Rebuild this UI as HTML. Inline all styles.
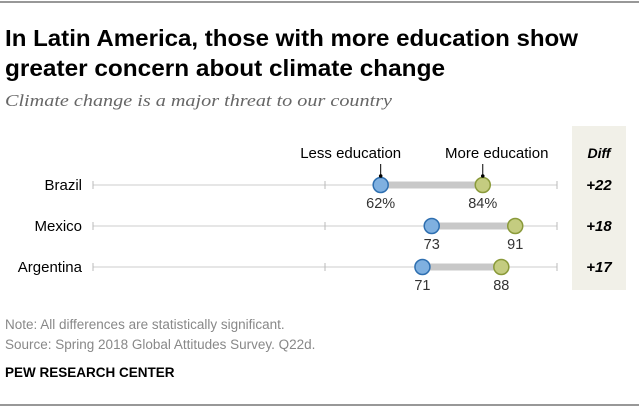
<!DOCTYPE html>
<html><head><meta charset="utf-8">
<style>
html,body{margin:0;padding:0;background:#fff;}
svg{display:block;font-family:"Liberation Sans",sans-serif;}
</style></head>
<body>
<svg id="chart" width="639" height="408" viewBox="0 0 639 408" xmlns="http://www.w3.org/2000/svg">
  <line x1="0" y1="2" x2="639" y2="2" stroke="#777" stroke-width="1.5"/>
  <text x="5" y="46" font-size="23" font-weight="bold" fill="#000" textLength="573" lengthAdjust="spacingAndGlyphs">In Latin America, those with more education show</text>
  <text x="5" y="76" font-size="23" font-weight="bold" fill="#000" textLength="440" lengthAdjust="spacingAndGlyphs">greater concern about climate change</text>
  <text x="5" y="106" font-size="17" font-style="italic" font-family="Liberation Serif, serif" fill="#666" textLength="387" lengthAdjust="spacingAndGlyphs">Climate change is a major threat to our country</text>
  <rect x="572" y="126" width="54" height="164" fill="#f1f0e8"/>
  <text x="599" y="158" font-size="14" font-weight="bold" font-style="italic" text-anchor="middle" fill="#000">Diff</text>
  <g id="rows"></g>
  <text x="5" y="329" font-size="13.5" fill="#888">Note: All differences are statistically significant.</text>
  <text x="5" y="349" font-size="13.5" fill="#888">Source: Spring 2018 Global Attitudes Survey. Q22d.</text>
  <text x="5" y="377" font-size="13.5" font-weight="bold" fill="#000">PEW RESEARCH CENTER</text>
  <line x1="0" y1="405" x2="639" y2="405" stroke="#777" stroke-width="1.5"/>
</svg>
<script>
const countries = ["Brazil", "Mexico", "Argentina"];
const lessEdu = [62, 73, 71];
const moreEdu = [84, 91, 88];
const diffs = ["+22", "+18", "+17"];
const axisTicks = [0, 50, 100];

const NS = "http://www.w3.org/2000/svg";
const X0 = 93, X1 = 557;
function xScale(v){ return X0 + (X1 - X0) * v / 100; }
function yRow(i){ return 185 + i * 41; }
const g = document.getElementById("rows");
function mk(tag, attrs, parent){
  const e = document.createElementNS(NS, tag);
  for (const k in attrs) e.setAttribute(k, attrs[k]);
  (parent || g).appendChild(e);
  return e;
}
countries.forEach((c, i) => {
  const y = yRow(i);
  const lab = mk("text", {x: 82, y: y + 5, "font-size": 15, "text-anchor": "end", fill: "#000"});
  lab.textContent = c;
  
  
  const ax = mk("line", {x1: xScale(0), x2: xScale(100), y1: y, y2: y, stroke: "#ccc", "stroke-width": 1});
  
  
  axisTicks.forEach(t => {
    const tk = mk("line", {x1: xScale(t), x2: xScale(t), y1: y - 4, y2: y + 4, stroke: "#bbb", "stroke-width": 1});
    
    
  });
  const bar = mk("line", {x1: xScale(lessEdu[i]), x2: xScale(moreEdu[i]), y1: y, y2: y, stroke: "#c8c8c8", "stroke-width": 7});
  
  
  const lessDot = mk("circle", {cx: xScale(lessEdu[i]), cy: y, r: 7.5, fill: "#7fb0e0", stroke: "#2e6fb0", "stroke-width": 1.5});
  
  
  const moreDot = mk("circle", {cx: xScale(moreEdu[i]), cy: y, r: 7.5, fill: "#c4cc80", stroke: "#8a9a3a", "stroke-width": 1.5});
  
  
  const lv = mk("text", {x: xScale(lessEdu[i]), y: y + 23, "font-size": 14.5, "text-anchor": "middle", fill: "#333"});
  lv.textContent = lessEdu[i] + (i === 0 ? "%" : "");
  
  
  const mv = mk("text", {x: xScale(moreEdu[i]), y: y + 23, "font-size": 14.5, "text-anchor": "middle", fill: "#333"});
  mv.textContent = moreEdu[i] + (i === 0 ? "%" : "");
  
  
  const dv = mk("text", {x: 599, y: y + 5, "font-size": 15, "font-weight": "bold", "font-style": "italic", "text-anchor": "middle", fill: "#000"});
  dv.textContent = diffs[i];
  
  
  if (i === 0) {
    [[lessEdu[0], "Less education", -30], [moreEdu[0], "More education", 14]].forEach(([v, t, off], j) => {
      const x = xScale(v);
      const ll = mk("line", {x1: x, x2: x, y1: y - 21, y2: y - 8, stroke: "#000", "stroke-width": 1});
      
      
      const ld = mk("circle", {cx: x, cy: y - 9, r: 1.8, fill: "#000"});
      
      
      const lt = mk("text", {x: x + off, y: y - 27, "font-size": 15, "text-anchor": "middle", fill: "#000"});
      lt.textContent = t;
      
      
    });
  }
});
</script>
</body></html>
